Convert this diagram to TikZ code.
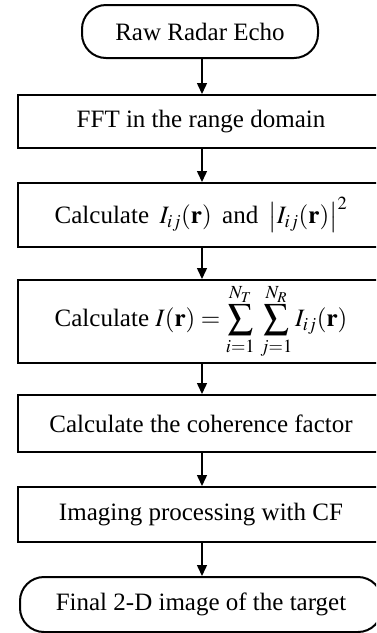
\documentclass[tikz,border=0pt]{standalone}
\usepackage{mathptmx}
\usepackage{fontspec}
\setmainfont{Liberation Serif}
\usetikzlibrary{arrows.meta}
\begin{document}
\begin{tikzpicture}[x=1pt,y=-1pt,
  box/.style={draw,line width=2pt,minimum width=366pt,inner sep=0pt,align=center,font=\fontsize{25}{30}\selectfont},
  term/.style={draw,line width=2pt,rounded corners=24pt,inner sep=0pt,align=center,font=\fontsize{25}{30}\selectfont},
  flow/.style={line width=1.5pt,-{Triangle[length=11pt,width=10pt]}}]
\useasboundingbox (0,0) rectangle (376,633);
\clip (0,0) rectangle (376,633);
\node[term,minimum width=236pt,minimum height=53pt] (n0) at (200,31.5) {Raw Radar Echo};
\node[box,minimum height=53pt] (n1) at (201,121.5) {FFT in the range domain};
\node[box,minimum height=64pt] (n2) at (201,215) {Calculate\, $I_{ij}(\mathbf{r})$\, and\, $\left|I_{ij}(\mathbf{r})\right|^{2}$};
\node[box,minimum height=83pt] (n3) at (201,321.5) {Calculate $\displaystyle I(\mathbf{r})=\sum_{i=1}^{N_T}\,\sum_{j=1}^{N_R}I_{ij}(\mathbf{r})$};
\node[box,minimum height=57pt] (n4) at (201,423.5) {Calculate the coherence factor};
\node[box,minimum height=55pt] (n5) at (201,514.5) {Imaging processing with CF};
\node[term,minimum width=362pt,minimum height=55pt] (n6) at (201,604.5) {Final 2-D image of the target};
\draw[flow] (n0.south -| 202,0) -- (n1.north -| 202,0);
\draw[flow] (n1.south -| 202,0) -- (n2.north -| 202,0);
\draw[flow] (n2.south -| 202,0) -- (n3.north -| 202,0);
\draw[flow] (n3.south -| 202,0) -- (n4.north -| 202,0);
\draw[flow] (n4.south -| 202,0) -- (n5.north -| 202,0);
\draw[flow] (n5.south -| 202,0) -- (n6.north -| 202,0);
\end{tikzpicture}
\end{document}
